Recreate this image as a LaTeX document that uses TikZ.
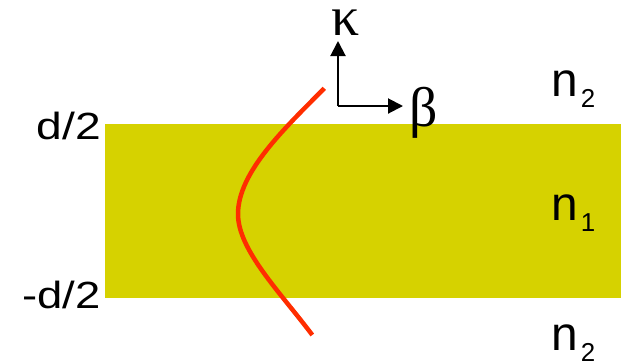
\documentclass[tikz,border=0pt]{standalone}
\usepackage{fontspec}
\usepackage{graphicx}
\setmainfont{Liberation Sans}
\newfontfamily\greekfont{Liberation Serif}
\usetikzlibrary{arrows.meta}
\definecolor{slab}{RGB}{214,210,0}
\definecolor{mode}{RGB}{255,45,0}
\tikzset{
  lab/.style={inner sep=0pt, font=\fontsize{38}{38}\selectfont},
  idx/.style={inner sep=0pt, font=\fontsize{48}{48}\selectfont, anchor=base west},
  glab/.style={inner sep=0pt, font=\greekfont\fontsize{56}{56}\selectfont, anchor=base},
  axis/.style={line width=2bp, -{Triangle[length=15bp,width=15bp]}},
}
\newcommand{\subtwo}[1]{n\hspace{3bp}\raisebox{-11bp}{\fontsize{26}{26}\selectfont #1}}
\begin{document}
\begin{tikzpicture}[x=1bp,y=-1bp]
\useasboundingbox (0,0) rectangle (621,362);
% slab
\fill[slab] (105,124) rectangle (621,297.5);
% mode profile
\coordinate (ptop) at (324.3,88.3);
\coordinate (pmid) at (238,214);
\coordinate (pbot) at (312.3,335);
\draw[mode, line width=4.5bp, line cap=butt]
  (ptop) .. controls (285,128) and (238,172) .. (pmid)
         .. controls (238,250) and (280,292) .. (pbot);
% axes
\coordinate (o) at (338,106);
\coordinate (ktip) at (338,41);
\coordinate (btip) at (403,106);
\draw[axis] (o) -- (ktip);
\draw[axis] (o) -- (btip);
\node[glab] (kappa) at (346,35) {κ};
\node[glab] (beta) at (424,126) {β};
% boundary labels
\node[lab, anchor=base east] (top) at (101,139) {\scalebox{1.22}[1]{d/2}};
\node[lab, anchor=base east] (bot) at (101,308) {\scalebox{1.2}[1]{-d/2}};
% indices
\node[idx] (n2a) at (551,96) {\subtwo{2}};
\node[idx] (n1) at (551,220) {\subtwo{1}};
\node[idx] (n2b) at (551,350) {\subtwo{2}};
\end{tikzpicture}
\end{document}
